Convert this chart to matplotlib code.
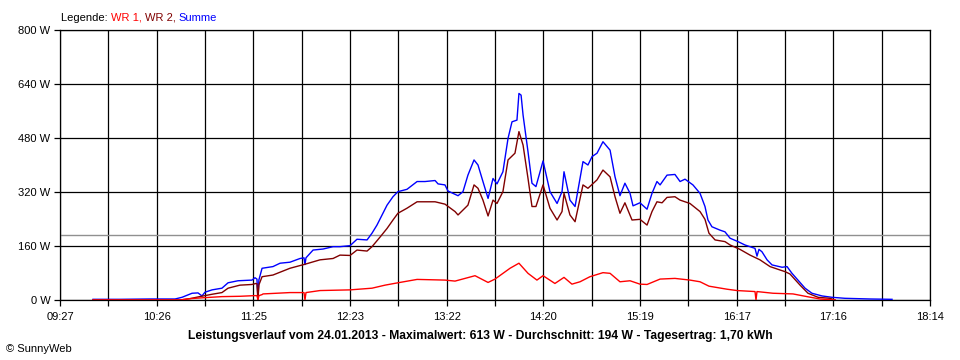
import numpy as np
import matplotlib
matplotlib.use("Agg")
import matplotlib.pyplot as plt

plt.rcParams['font.family'] = ['Liberation Sans', 'DejaVu Sans']

# time in minutes since midnight, power in W
t_sum = [587.0, 603.3, 621.5, 636.7, 640.9, 647.0, 650.6, 653.0, 654.8, 659.1, 665.1, 668.8,
         674.8, 683.3, 685.1, 686.3, 686.9, 687.5, 689.4, 696.0, 700.3, 706.3, 712.4, 714.8,
         715.4, 716.0, 720.3, 726.3, 732.4, 736.6, 742.7, 746.9, 753.0, 756.0, 759.0, 762.1,
         765.1, 768.7, 771.7, 777.2, 783.3, 788.1, 794.2, 796.0, 800.2, 802.0, 808.1, 811.1,
         814.1, 817.8, 820.2, 823.2, 826.3, 829.3, 831.7, 835.3, 838.4, 840.8, 843.8, 845.0,
         846.3, 847.5, 850.5, 852.9, 855.3, 859.6, 863.8, 868.1, 871.1, 872.3, 875.9, 879.0,
         883.8, 886.8, 889.3, 892.3, 895.9, 900.2, 903.2, 906.2, 909.2, 912.3, 914.1, 918.3,
         922.6, 925.6, 928.6, 930.5, 934.7, 939.5, 942.6, 945.6, 950.4, 954.7, 957.7, 959.5,
         961.9, 966.8, 969.8, 972.9, 977.7, 981.9, 988.0, 989.2, 990.4, 992.2, 995.3, 998.3,
         1004.4, 1007.4, 1010.4, 1014.0, 1018.3, 1022.5, 1028.6, 1034.6, 1042.5, 1057.7, 1071.0]
p_sum = [2, 2, 3, 3, 8, 20, 21, 12, 23, 30, 35, 51,
         57, 59, 66, 62, 5, 60, 94, 99, 109, 112, 123, 125,
         105, 125, 148, 151, 158, 158, 161, 180, 178, 198, 222, 252,
         281, 306, 321, 328, 351, 351, 354, 344, 341, 323, 309, 321,
         370, 415, 400, 351, 301, 360, 344, 380, 479, 528, 533, 612,
         607, 548, 439, 346, 336, 412, 321, 286, 321, 380, 296, 277,
         410, 400, 425, 435, 469, 444, 365, 309, 346, 316, 279, 288,
         269, 316, 351, 341, 370, 372, 351, 358, 341, 316, 277, 237,
         217, 207, 202, 183, 173, 163, 153, 130, 150, 143, 119, 104,
         97, 99, 79, 59, 35, 20, 12, 8, 5, 3, 2]

t_wr2 = [587.0, 639.7, 645.7, 650.6, 654.8, 659.1, 665.1, 668.8, 676.0, 683.3, 685.7, 686.3,
         686.9, 687.5, 689.4, 696.0, 706.3, 715.4, 724.5, 732.4, 736.6, 742.7, 746.9, 753.0,
         756.0, 760.8, 765.1, 768.7, 771.7, 777.2, 783.3, 794.2, 800.2, 806.3, 808.1, 814.1,
         817.8, 820.2, 823.2, 826.3, 829.3, 831.7, 835.3, 838.4, 842.6, 845.0, 847.5, 850.5,
         852.9, 855.3, 859.6, 863.8, 868.1, 871.1, 872.3, 875.9, 879.0, 883.8, 886.8, 892.3,
         895.9, 900.2, 903.2, 906.2, 909.2, 913.5, 918.3, 922.6, 925.6, 928.6, 931.7, 934.7,
         939.5, 942.6, 948.6, 954.7, 957.7, 960.1, 963.8, 969.8, 972.9, 978.9, 985.0, 991.0,
         997.1, 1003.1, 1006.2, 1009.2, 1015.3, 1020.1, 1026.2, 1033.4, 1036.5]
p_wr2 = [0, 0, 4, 9, 13, 17, 22, 35, 44, 46, 49, 48,
         0, 45, 69, 74, 94, 106, 119, 123, 133, 132, 148, 145,
         158, 186, 212, 237, 257, 272, 291, 291, 284, 262, 252, 281,
         341, 331, 296, 249, 296, 286, 321, 415, 435, 499, 459, 360,
         277, 277, 341, 272, 237, 262, 316, 252, 232, 341, 331, 356,
         385, 365, 306, 257, 288, 237, 239, 222, 262, 291, 288, 304,
         306, 296, 286, 262, 239, 198, 178, 173, 163, 150, 133, 119,
         99, 89, 84, 77, 44, 20, 8, 5, 0]

t_wr1 = [587.0, 639.7, 645.7, 654.8, 665.1, 676.0, 685.1, 686.3, 686.9, 687.5, 689.4, 690.0,
         706.3, 714.8, 715.4, 716.0, 724.5, 742.7, 756.0, 763.9, 771.7, 783.3, 800.2, 806.3,
         818.4, 826.3, 830.5, 839.6, 845.0, 850.5, 855.9, 859.6, 866.8, 872.3, 877.1, 882.0,
         888.0, 895.9, 900.2, 906.2, 912.3, 918.3, 922.6, 930.5, 939.5, 948.6, 954.7, 960.1,
         971.0, 977.1, 988.0, 988.6, 989.2, 998.9, 1011.0, 1019.5, 1027.4, 1036.5]
p_wr1 = [0, 0, 4, 7, 10, 11, 13, 13, 0, 13, 16, 18,
         22, 22, 0, 22, 28, 30, 35, 44, 51, 61, 59, 56,
         72, 52, 62, 94, 109, 79, 59, 72, 49, 67, 47, 54,
         69, 81, 79, 54, 57, 47, 46, 62, 64, 59, 54, 41,
         32, 28, 25, 0, 25, 20, 18, 10, 3, 0]

avg_power = 194
x_start, x_end = 567.0, 1094.0
x_labels = ["09:27", "10:26", "11:25", "12:23", "13:22", "14:20", "15:19", "16:17", "17:16", "18:14"]
y_ticks = [0, 160, 320, 480, 640, 800]
y_labels = ["0 W", "160 W", "320 W", "480 W", "640 W", "800 W"]

fig = plt.figure(figsize=(9.6, 3.6), dpi=100)
ax = fig.add_axes([60/960, 60/360, 870/960, 270/360])

ax.set_xlim(x_start, x_end)
ax.set_ylim(0, 800)

xt = np.linspace(x_start, x_end, 19)
ax.set_xticks(xt)
ax.set_xticklabels([x_labels[i // 2] if i % 2 == 0 else "" for i in range(19)])
ax.set_yticks(y_ticks)
ax.set_yticklabels(y_labels)

ax.grid(True, color='black', linewidth=0.9)
ax.set_axisbelow(True)
for s in ax.spines.values():
    s.set_linewidth(0.9)
    s.set_color('black')
ax.tick_params(axis='both', length=4, width=0.9, labelsize=8, colors='black')
ax.tick_params(axis='y', pad=3)
ax.tick_params(axis='x', pad=5)

ax.axhline(avg_power, color='#909090', linewidth=1.0, zorder=2)

ax.plot(t_sum, p_sum, color='#0000ff', linewidth=1.0, zorder=3)
ax.plot(t_wr2, p_wr2, color='#800000', linewidth=1.0, zorder=4)
ax.plot(t_wr1, p_wr1, color='#ff0000', linewidth=1.0, zorder=5)

# legend line
fs = 8
y_leg = 342/360
parts = [("Legende: ", 'black'), ("WR 1, ", '#ff0000'), ("WR 2, ", '#800000'), ("Summe", '#0000ff')]
x = 61/960
renderer = fig.canvas.get_renderer()
for txt, col in parts:
    t = fig.text(x, y_leg, txt, color=col, fontsize=fs, va='center', ha='left')
    bb = t.get_window_extent(renderer=renderer)
    x += bb.width / 960

fig.text(480/960, 24/360, "Leistungsverlauf vom 24.01.2013 - Maximalwert: 613 W - Durchschnitt: 194 W - Tagesertrag: 1,70 kWh",
         fontsize=8.7, fontweight='bold', ha='center', va='center')
fig.text(6/960, 11/360, "\u00a9 SunnyWeb", fontsize=8, ha='left', va='center')

fig.savefig("out.png", dpi=100)
